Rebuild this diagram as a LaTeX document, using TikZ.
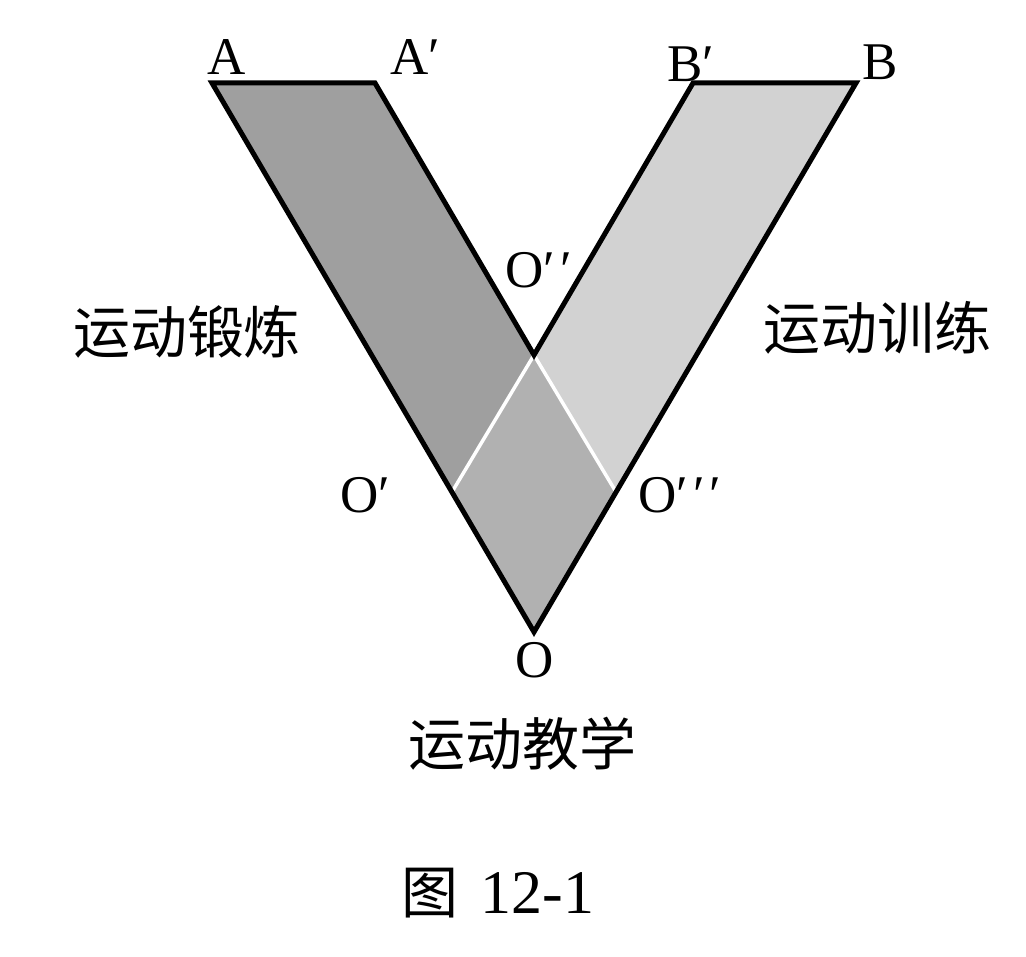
\documentclass[tikz,border=0pt]{standalone}
\usepackage{fontspec}
\setmainfont{Liberation Serif}
\newfontfamily\cjk{Noto Sans CJK SC}
\definecolor{darkband}{HTML}{9F9F9F}
\definecolor{midband}{HTML}{B1B1B1}
\definecolor{lightband}{HTML}{D2D2D2}
\newcommand{\pr}{\kern5pt′}
\tikzset{
  ptlabel/.style={inner sep=0pt, font=\fontsize{53}{60}\selectfont},
  cnlabel/.style={inner sep=0pt, font=\cjk\fontsize{57}{66}\selectfont},
  outline/.style={draw=black, line width=5pt, line join=miter},
  divider/.style={draw=white, line width=3.5pt}
}
\begin{document}
\begin{tikzpicture}[x=1pt,y=-1pt]
\useasboundingbox (0,0) rectangle (1026,957);
% key points
\coordinate (A) at (212,83);
\coordinate (Ap) at (375,83);
\coordinate (Bp) at (693,83);
\coordinate (B) at (856,83);
\coordinate (Opp) at (534,355);
\coordinate (O) at (534,632);
\coordinate (Op) at (452,492);
\coordinate (Oppp) at (616,492);
% fills
\fill[darkband] (A) -- (Ap) -- (Opp) -- (Op) -- cycle;
\fill[lightband] (Opp) -- (Bp) -- (B) -- (Oppp) -- cycle;
\fill[midband] (Opp) -- (Oppp) -- (O) -- (Op) -- cycle;
% white dividers
\draw[divider] (Opp) -- (Op);
\draw[divider] (Opp) -- (Oppp);
% outline
\draw[outline] (A) -- (Ap) -- (Opp) -- (Bp) -- (B) -- (O) -- cycle;
% point labels
\node[ptlabel, anchor=base west] (lA) at (207,75) {A};
\node[ptlabel, anchor=base west] (lAp) at (390,75) {A′};
\node[ptlabel, anchor=base west] (lBp) at (667,82) {B′};
\node[ptlabel, anchor=base west] (lB) at (862,80) {B};
\node[ptlabel, anchor=base west] (lOpp) at (505,288) {O′\pr};
\node[ptlabel, anchor=base west] (lOp) at (340,512) {O′};
\node[ptlabel, anchor=base west] (lOppp) at (638,513) {O′\pr\pr};
\node[ptlabel, anchor=base] (lO) at (535,677) {O};
% Chinese labels
\node[cnlabel] (ex) at (187,332) {运动锻炼};
\node[cnlabel] (tr) at (877,328) {运动训练};
\node[cnlabel] (te) at (522,744) {运动教学};
\node[inner sep=0pt, anchor=base] (cap) at (498,913) {{\cjk\fontsize{57}{66}\selectfont 图}\hspace{22pt}{\fontsize{62}{70}\selectfont 12-1}};
\end{tikzpicture}
\end{document}
